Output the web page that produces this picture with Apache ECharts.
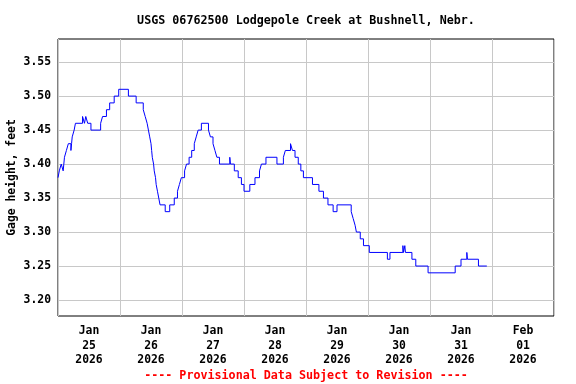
<!DOCTYPE html>
<html>
<head>
<meta charset="utf-8">
<script src="https://cdn.jsdelivr.net/npm/echarts@6/dist/echarts.min.js"></script>
<style>html,body{margin:0;padding:0;background:#fff;}#c{width:576px;height:384px;}</style>
</head>
<body>
<div id="c"></div>
<script>
// Day categories (labels centered in each day band)
const dayLabels = ["Jan\n25\n2026","Jan\n26\n2026","Jan\n27\n2026","Jan\n28\n2026","Jan\n29\n2026","Jan\n30\n2026","Jan\n31\n2026","Feb\n01\n2026"];
// Y tick labels
const yTicks = [3.20, 3.25, 3.30, 3.35, 3.40, 3.45, 3.50, 3.55];
// Gage height change points: hours since 2026-01-25 00:00 and value (ft)
const hours = [0,0.5,1.25,2,2.25,2.5,3.25,4,5,5.25,5.5,6.25,6.75,9.5,10.25,10.75,11.5,12.75,16.5,17.25,18.75,20,21.75,23.5,27.25,30.25,33,33.75,34.5,35,35.5,36,36.25,36.5,37,37.25,37.75,38,38.5,39,39.5,41.5,43.25,45,46.25,47,47.75,49,49.75,50.75,51.75,52.75,53.5,54.25,55.5,58.25,59,60,60.75,61.5,62.5,66.5,66.75,68.25,69.75,71,72,74.25,76.25,78,78.75,80.5,84.75,87.25,88,90,90.75,91.75,93,94,95,98.5,101,102.75,104.5,106.5,108,113.5,114.25,115,115.5,117,118.25,120.5,127.5,128.5,133.5,133.75,134.25,134.5,137,138.5,143.25,153.75,156,158.25,158.5,162.75,166];
const gage = [3.38,3.39,3.40,3.39,3.40,3.41,3.42,3.43,3.42,3.43,3.44,3.45,3.46,3.47,3.46,3.47,3.46,3.45,3.46,3.47,3.48,3.49,3.50,3.51,3.50,3.49,3.48,3.47,3.46,3.45,3.44,3.43,3.42,3.41,3.40,3.39,3.38,3.37,3.36,3.35,3.34,3.33,3.34,3.35,3.36,3.37,3.38,3.39,3.40,3.41,3.42,3.43,3.44,3.45,3.46,3.45,3.44,3.43,3.42,3.41,3.40,3.41,3.40,3.39,3.38,3.37,3.36,3.37,3.38,3.39,3.40,3.41,3.40,3.41,3.42,3.43,3.42,3.41,3.40,3.39,3.38,3.37,3.36,3.35,3.34,3.33,3.34,3.33,3.32,3.31,3.30,3.29,3.28,3.27,3.26,3.27,3.28,3.27,3.28,3.27,3.26,3.25,3.24,3.25,3.26,3.27,3.26,3.25,3.25];

const FONT = "DejaVu Sans Mono";
const data = hours.map((h, i) => [h, gage[i]]);
const chart = echarts.init(document.getElementById('c'), null, {renderer: 'canvas'});
chart.setOption({
  animation: false,
  backgroundColor: '#fff',
  title: [
    {text: "USGS 06762500 Lodgepole Creek at Bushnell, Nebr.", left: 301, top: 10, textAlign: 'center',
     textStyle: {fontFamily: FONT, fontWeight: 'bold', fontSize: 11.7, color: '#000'}},
    {text: "---- Provisional Data Subject to Revision ----", left: 301, top: 365, textAlign: 'center',
     textStyle: {fontFamily: FONT, fontWeight: 'bold', fontSize: 11.7, color: '#ff0000'}}
  ],
  grid: {left: 58, right: 22, top: 39, bottom: 68, show: true, borderColor: '#000', borderWidth: 1,
         backgroundColor: 'transparent', containLabel: false, outerBoundsMode: 'none'},
  xAxis: [
    {type: 'category', data: dayLabels, boundaryGap: true,
     axisLine: {show: false}, axisTick: {show: false},
     splitLine: {show: true, lineStyle: {color: '#c8c8c8', width: 1}},
     axisLabel: {interval: 0, margin: 8, lineHeight: 14.5, fontFamily: FONT, fontWeight: 'bold', fontSize: 11.4, color: '#000'}},
    {type: 'value', min: 0, max: 192, show: false}
  ],
  yAxis: {
    type: 'value', min: 3.1765, max: 3.584,
    name: 'Gage height, feet', nameLocation: 'middle', nameRotate: 90, nameGap: 40, nameMoveOverlap: false,
    nameTextStyle: {fontFamily: FONT, fontWeight: 'bold', fontSize: 11.4, color: '#000'},
    axisLine: {show: false}, axisTick: {show: false}, splitLine: {show: false},
    axisLabel: {customValues: yTicks, formatter: v => v.toFixed(2), margin: 7,
      fontFamily: FONT, fontWeight: 'bold', fontSize: 11.4, color: '#000'}
  },
  series: [
    {type: 'line', xAxisIndex: 1, data: [], silent: true, z: 1,
     markLine: {silent: true, symbol: 'none', label: {show: false}, animation: false,
       lineStyle: {color: '#c8c8c8', width: 1, type: 'solid'},
       data: yTicks.map(v => ({yAxis: v}))}},
    {type: 'line', xAxisIndex: 1, data: data, step: 'end', showSymbol: false, z: 5,
     lineStyle: {color: '#0000ff', width: 1}}
  ]
});
</script>
</body>
</html>
